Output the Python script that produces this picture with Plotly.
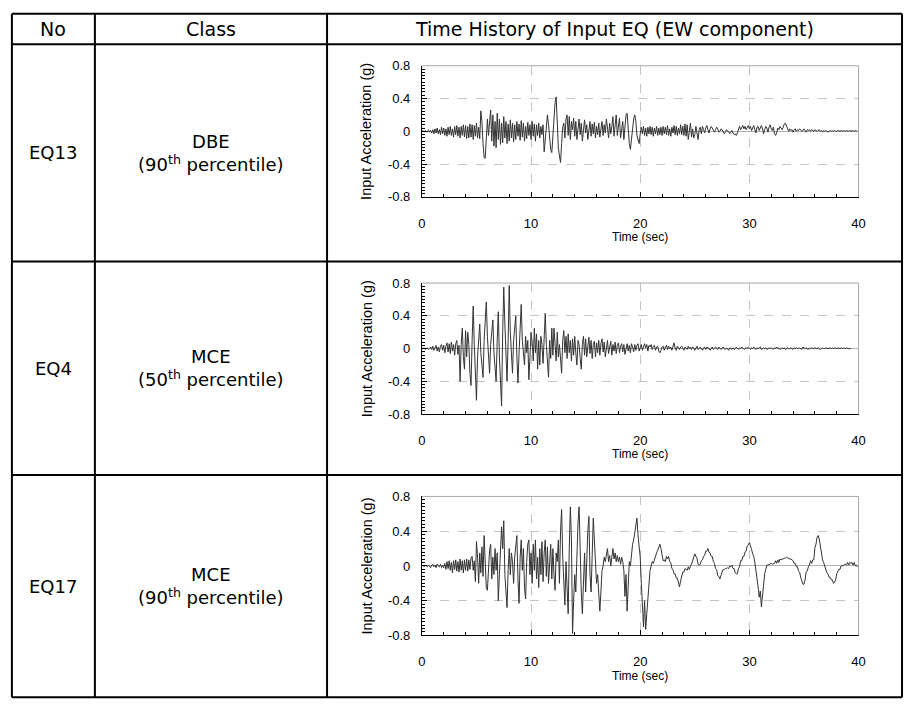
import plotly.graph_objects as go

# ---- figure / table geometry (pixels) ----
W, H = 911, 711
DT = 0.1  # sampling interval of the records (s)

# ---- EW acceleration records (g), sampled every DT seconds ----
eq13_acc = [
    0.00, 0.01, -0.01, 0.01, 0.00, -0.01, 0.02, -0.01, 0.01, -0.02, 0.02, -0.03, 0.03, -0.02, 0.04, -0.03, 0.02, -0.04, 0.05, -0.03,
    0.04, -0.05, 0.03, -0.06, 0.05, -0.04, 0.06, -0.05, 0.03, -0.07, 0.06, -0.04, 0.07, -0.06, 0.05, -0.08, 0.06, -0.05, 0.08, -0.07,
    0.07, -0.09, 0.06, -0.08, 0.09, -0.07, 0.08, -0.10, 0.07, -0.06, 0.10, -0.08, 0.05, -0.09, 0.25, 0.12, -0.15, -0.32, -0.33, -0.10,
    0.15, -0.05, 0.18, 0.26, -0.12, 0.20, -0.18, 0.12, -0.20, 0.22, -0.10, 0.15, -0.16, 0.10, -0.14, 0.18, -0.08, 0.12, -0.15, 0.09,
    -0.12, 0.14, -0.08, 0.10, -0.13, 0.08, -0.10, 0.12, -0.06, 0.09, -0.11, 0.13, -0.07, 0.10, -0.12, 0.06, -0.09, 0.11, -0.05, 0.08,
    -0.10, 0.12, -0.06, 0.09, -0.12, 0.08, -0.05, 0.10, -0.08, 0.06, -0.04, 0.08, -0.25, -0.10, 0.05, 0.20, 0.08, -0.12, -0.22, -0.26,
    -0.05, 0.20, 0.35, 0.42, 0.10, -0.20, -0.30, -0.38, -0.15, 0.05, 0.10, -0.08, 0.15, 0.20, -0.05, 0.18, -0.10, 0.12, 0.02, 0.16,
    -0.06, 0.12, -0.10, 0.08, 0.15, -0.04, 0.10, -0.12, 0.06, 0.14, -0.02, 0.08, -0.10, 0.05, 0.12, -0.06, 0.09, -0.03, 0.11, -0.08,
    0.06, -0.04, 0.10, -0.07, 0.05, 0.12, -0.05, 0.08, -0.02, 0.15, 0.04, -0.08, 0.10, -0.03, 0.06, 0.18, -0.06, 0.12, 0.20, -0.05,
    0.10, 0.16, -0.08, 0.05, 0.12, -0.10, 0.08, 0.20, 0.22, -0.05, -0.15, -0.22, -0.10, 0.08, 0.15, 0.20, 0.12, -0.05, -0.12, -0.15,
    -0.03, 0.05, -0.03, 0.06, -0.05, 0.04, -0.06, 0.05, -0.03, 0.06, -0.04, 0.05, -0.06, 0.04, -0.03, 0.06, -0.05, 0.04, -0.04, 0.05,
    -0.05, 0.06, -0.03, 0.05, -0.04, 0.07, -0.05, 0.03, -0.06, 0.05, -0.02, 0.07, -0.04, 0.06, -0.05, 0.04, -0.03, 0.08, -0.04, 0.06,
    -0.05, 0.09, -0.06, 0.08, -0.10, 0.05, 0.10, -0.07, 0.03, -0.08, -0.04, 0.06, -0.05, -0.10, 0.02, 0.05, -0.03, 0.06, 0.02, -0.02,
    0.04, 0.07, 0.02, -0.02, 0.03, 0.06, 0.04, 0.01, -0.01, 0.02, 0.05, 0.03, -0.01, 0.00, 0.03, 0.02, -0.01, -0.03, -0.01, 0.02,
    0.01, -0.02, -0.03, -0.01, 0.01, -0.02, -0.04, -0.03, -0.05, -0.02, 0.04, 0.06, 0.02, 0.05, 0.07, 0.03, 0.06, 0.02, 0.05, 0.07,
    0.03, 0.06, 0.01, 0.04, 0.07, 0.02, -0.02, 0.05, 0.06, 0.01, 0.04, 0.07, 0.03, -0.03, 0.02, 0.06, 0.04, -0.01, 0.05, 0.08,
    0.03, 0.01, 0.05, -0.03, -0.05, -0.02, 0.04, 0.02, 0.06, 0.03, 0.02, 0.05, 0.09, 0.10, 0.06, 0.02, 0.00, 0.03, 0.01, 0.02,
    -0.01, 0.02, 0.03, 0.00, 0.02, 0.01, 0.03, 0.02, 0.00, 0.01, 0.03, 0.01, -0.01, 0.02, 0.01, 0.02, 0.00, 0.02, 0.01, 0.00,
    0.02, 0.01, 0.00, 0.01, 0.02, 0.00, 0.01, -0.01, 0.01, 0.00, 0.01, 0.00, -0.01, 0.00, 0.01, 0.00, 0.01, 0.00, 0.01, 0.00,
    0.00, 0.01, 0.00, 0.00, 0.01, 0.00, 0.01, 0.00, 0.00, 0.01, 0.00, 0.00, 0.01, 0.00, 0.00, 0.01, 0.00, 0.01, 0.00, 0.01,
]

eq4_acc = [
    0.00, 0.00, 0.01, -0.01, 0.00, 0.01, -0.01, 0.00, 0.02, -0.01, 0.03, -0.02, 0.01, 0.04, -0.03, 0.02, -0.04, 0.03, 0.05, -0.02,
    0.04, -0.05, 0.03, 0.07, -0.04, 0.06, -0.06, 0.08, -0.03, 0.05, -0.08, 0.06, 0.10, -0.07, 0.04, -0.40, 0.05, 0.25, -0.10, -0.25,
    0.22, -0.10, 0.20, 0.05, -0.30, -0.45, 0.10, 0.52, 0.05, -0.30, -0.63, -0.10, 0.15, 0.30, -0.05, -0.20, -0.35, 0.10, 0.40, 0.57,
    0.15, -0.10, -0.30, 0.05, 0.20, 0.35, -0.05, -0.25, -0.40, 0.10, 0.45, -0.10, -0.35, -0.70, 0.20, 0.75, 0.30, -0.15, -0.40, 0.10,
    0.77, 0.20, -0.15, -0.30, 0.10, 0.25, 0.40, -0.10, -0.42, -0.05, 0.30, 0.54, 0.10, -0.10, -0.20, 0.15, -0.05, 0.10, -0.38, -0.10,
    0.20, 0.08, -0.15, 0.25, -0.05, 0.18, -0.25, 0.10, -0.20, 0.15, 0.05, -0.18, 0.10, 0.43, 0.05, -0.20, -0.35, 0.10, -0.12, 0.25,
    -0.08, 0.25, 0.05, -0.15, 0.20, -0.10, 0.05, -0.20, -0.30, 0.10, 0.22, -0.05, 0.15, -0.12, 0.18, -0.05, 0.10, -0.15, 0.12, -0.08,
    0.15, -0.05, -0.20, 0.10, 0.05, -0.12, -0.25, 0.05, 0.15, -0.08, 0.12, -0.10, 0.08, 0.14, -0.06, 0.10, -0.12, 0.05, 0.09, -0.10,
    0.07, -0.05, 0.10, -0.08, 0.06, 0.12, -0.04, 0.08, -0.10, 0.05, 0.10, -0.06, 0.03, 0.09, -0.08, 0.05, -0.03, 0.08, -0.06, 0.04,
    0.07, -0.05, 0.03, 0.06, -0.04, 0.05, -0.07, 0.02, 0.06, -0.03, 0.04, -0.05, 0.06, 0.02, -0.04, 0.05, -0.02, 0.04, 0.06, -0.03,
    0.03, 0.05, -0.02, 0.04, 0.06, 0.01, 0.05, -0.03, 0.04, 0.02, 0.05, -0.01, 0.03, 0.04, -0.02, 0.02, 0.03, -0.03, -0.05, -0.02,
    0.02, 0.03, -0.02, 0.02, 0.04, -0.01, 0.03, 0.00, 0.02, -0.02, 0.03, 0.07, 0.01, -0.02, 0.03, 0.01, -0.01, 0.02, 0.03, 0.00,
    -0.02, 0.02, 0.01, -0.01, 0.03, 0.00, 0.02, -0.01, 0.02, 0.01, -0.02, 0.01, 0.03, -0.01, 0.01, 0.02, 0.00, -0.02, 0.01, 0.02,
    -0.01, 0.02, 0.00, 0.01, -0.02, 0.01, 0.02, -0.01, 0.00, 0.02, 0.01, -0.01, 0.02, 0.00, -0.01, 0.01, 0.02, 0.00, -0.01, 0.01,
    0.00, -0.02, 0.01, 0.00, -0.01, 0.01, -0.01, 0.00, 0.02, 0.00, -0.01, 0.01, 0.00, 0.02, 0.01, -0.01, 0.00, 0.01, 0.00, 0.02,
    0.01, -0.01, 0.01, 0.00, 0.02, 0.00, -0.01, 0.01, 0.00, 0.01, 0.02, -0.01, 0.00, 0.01, 0.00, 0.01, -0.01, 0.00, 0.01, 0.00,
    0.01, 0.00, -0.01, 0.01, 0.00, 0.02, 0.00, 0.01, -0.01, 0.00, 0.01, 0.00, 0.01, -0.01, 0.00, 0.01, 0.00, 0.00, 0.01, 0.00,
    -0.01, 0.01, 0.00, 0.01, 0.00, 0.00, 0.01, 0.00, -0.01, 0.02, 0.01, 0.00, 0.01, 0.00, -0.01, 0.01, 0.00, 0.01, 0.00, 0.00,
    0.01, 0.00, 0.00, 0.01, 0.00, -0.01, 0.00, 0.01, 0.00, 0.00, 0.01, 0.00, 0.00, 0.01, 0.00, 0.00, 0.01, 0.00, 0.01, 0.00,
    0.00, 0.01, 0.00, 0.00, 0.01, 0.00, 0.01, 0.00, 0.00, 0.01, 0.00, 0.00, 0.00, 0.00,
]

eq17_acc = [
    0.00, 0.01, -0.01, 0.01, 0.00, -0.01, 0.01, 0.00, -0.02, 0.01, 0.02, -0.01, 0.01, -0.02, 0.02, 0.00, -0.01, 0.02, -0.02, 0.01,
    -0.02, 0.03, -0.04, 0.05, -0.03, 0.06, -0.05, 0.04, -0.08, 0.06, -0.04, 0.07, -0.06, 0.05, -0.07, 0.08, -0.05, 0.06, -0.08, 0.07,
    -0.05, 0.08, -0.06, 0.07, -0.04, 0.09, 0.11, -0.05, 0.06, -0.18, 0.28, 0.10, -0.20, 0.15, -0.08, 0.22, -0.12, 0.35, 0.10, -0.25,
    -0.28, 0.05, 0.18, 0.25, -0.15, 0.10, -0.10, 0.20, -0.05, 0.15, -0.40, -0.10, 0.30, 0.45, 0.20, 0.52, -0.10, -0.30, -0.48, -0.05,
    0.20, -0.10, 0.15, 0.05, -0.20, 0.10, 0.25, 0.35, -0.15, -0.43, 0.10, 0.30, -0.05, 0.20, -0.25, -0.38, 0.05, 0.25, 0.30, -0.10,
    0.15, -0.20, 0.25, -0.05, 0.30, -0.15, 0.10, -0.25, 0.20, -0.10, 0.28, -0.18, 0.15, 0.30, -0.12, 0.22, -0.20, 0.08, 0.25, -0.15,
    0.20, -0.10, -0.28, 0.15, 0.05, 0.30, -0.20, 0.40, 0.65, 0.10, -0.20, -0.45, 0.05, -0.30, -0.55, 0.20, 0.68, 0.30, -0.78, -0.40,
    -0.10, -0.30, 0.20, 0.50, 0.68, 0.10, -0.30, -0.55, -0.20, 0.15, -0.30, 0.20, 0.40, 0.57, -0.10, -0.30, 0.20, 0.55, 0.30, -0.05,
    -0.20, -0.10, -0.40, -0.52, -0.30, -0.05, 0.00, 0.10, 0.05, 0.15, 0.20, 0.05, 0.12, 0.00, 0.15, 0.20, 0.08, 0.15, 0.05, 0.12,
    0.05, 0.10, 0.02, 0.10, 0.05, -0.05, -0.35, -0.10, -0.52, -0.20, 0.05, 0.00, 0.15, 0.25, 0.30, 0.40, 0.45, 0.55, 0.35, 0.20,
    0.10, -0.20, -0.50, -0.70, -0.40, -0.73, -0.55, -0.35, -0.20, -0.05, 0.00, 0.05, 0.03, 0.08, 0.12, 0.15, 0.18, 0.22, 0.25, 0.20,
    0.12, 0.06, 0.07, 0.05, 0.11, 0.08, 0.11, 0.05, 0.04, -0.03, -0.04, -0.09, -0.09, -0.14, -0.14, -0.21, -0.24, -0.17, -0.13, -0.07,
    -0.07, -0.03, -0.04, -0.05, -0.01, -0.04, 0.00, 0.02, 0.06, 0.09, 0.14, 0.11, 0.09, 0.02, 0.01, 0.02, 0.06, 0.07, 0.11, 0.12,
    0.17, 0.17, 0.20, 0.16, 0.15, 0.11, 0.11, 0.05, 0.03, -0.03, -0.04, -0.11, -0.12, -0.15, -0.09, -0.07, -0.04, -0.04, -0.03, -0.03,
    -0.02, -0.03, 0.00, -0.01, 0.01, -0.03, -0.03, -0.08, -0.09, -0.09, -0.03, -0.01, 0.06, 0.06, 0.11, 0.11, 0.16, 0.17, 0.23, 0.24,
    0.27, 0.21, 0.19, 0.14, 0.11, 0.04, -0.04, -0.16, -0.24, -0.36, -0.29, -0.47, -0.34, -0.21, -0.09, -0.04, 0.01, 0.01, 0.02, 0.02,
    0.03, 0.02, 0.03, 0.03, 0.06, 0.03, 0.07, 0.04, 0.08, 0.07, 0.08, 0.08, 0.09, 0.09, 0.10, 0.09, 0.09, 0.08, 0.08, 0.07,
    0.06, 0.03, 0.03, -0.01, -0.01, -0.06, -0.07, -0.13, -0.17, -0.21, -0.21, -0.16, -0.07, -0.06, -0.01, 0.01, 0.06, 0.03, 0.07, 0.07,
    0.21, 0.25, 0.33, 0.35, 0.31, 0.21, 0.16, 0.07, 0.04, -0.01, -0.04, -0.08, -0.09, -0.13, -0.13, -0.16, -0.16, -0.20, -0.19, -0.16,
    -0.09, -0.07, -0.04, -0.04, 0.00, 0.00, 0.01, 0.01, 0.02, 0.01, 0.04, 0.01, 0.04, 0.03, 0.04, 0.01, 0.04, 0.00, 0.01, -0.01,
]

# ---- table contents ----
record_ids = ["EQ13", "EQ4", "EQ17"]
hazard_levels = ["DBE", "MCE", "MCE"]
percentiles = ["90", "50", "90"]
records = [eq13_acc, eq4_acc, eq17_acc]
header_labels = ["No", "Class", "Time History of Input EQ (EW component)"]
x_ticks = [0, 10, 20, 30, 40]
y_ticks = [-0.8, -0.4, 0, 0.4, 0.8]
y_ticklabels = ["-0.8", "-0.4", "0", "0.4", "0.8"]

# table grid lines (pixels)
col_x = [8, 92, 327, 909]
row_y = [7, 38, 260, 478, 705]
plot_left, plot_right = 423, 865
plot_tops = [60, 282, 500]
plot_heights = [134, 134, 142]


def fx(p):
    return p / W


def fy(p):
    return 1 - p / H


fig = go.Figure()
shapes = []
annotations = []
layout_axes = {}

TABLE_FONT = "DejaVu Sans, Verdana, sans-serif"
CHART_FONT = "Liberation Sans, Arial, sans-serif"

for i, acc in enumerate(records):
    sfx = "" if i == 0 else str(i + 1)
    xs = [k * DT for k in range(len(acc))]
    fig.add_trace(go.Scatter(
        x=xs, y=acc, mode="lines",
        line=dict(color="#333333", width=1),
        xaxis=f"x{sfx}", yaxis=f"y{sfx}", showlegend=False, hoverinfo="skip",
    ))

    top = plot_tops[i]
    bottom = top + plot_heights[i]
    xdom = [fx(plot_left), fx(plot_right)]
    ydom = [fy(bottom), fy(top)]

    layout_axes[f"xaxis{sfx}"] = dict(
        domain=xdom, range=[0, 40], anchor=f"y{sfx}",
        tickmode="array", tickvals=x_ticks,
        ticks="inside", ticklen=5, tickcolor="black", tickwidth=1,
        showline=True, linecolor="black", linewidth=1,
        showgrid=True, gridcolor="#c4c4c4", griddash="dash", gridwidth=1,
        zeroline=False,
        minor=dict(dtick=2, tick0=0, ticks="inside", ticklen=3,
                   tickcolor="black", showgrid=False),
        tickfont=dict(family=CHART_FONT, size=13, color="black"),
        ticklabelstandoff=14,
        fixedrange=True,
    )
    layout_axes[f"yaxis{sfx}"] = dict(
        domain=ydom, range=[-0.8, 0.8], anchor=f"x{sfx}",
        tickmode="array", tickvals=y_ticks, ticktext=y_ticklabels,
        ticks="inside", ticklen=5, tickcolor="black", tickwidth=1,
        showline=True, linecolor="black", linewidth=1,
        showgrid=True, gridcolor="#c4c4c4", griddash="dash", gridwidth=1,
        zeroline=True, zerolinecolor="#b0b0b0", zerolinewidth=1,
        minor=dict(dtick=0.04, tick0=0, ticks="inside", ticklen=3,
                   tickcolor="black", showgrid=False),
        tickfont=dict(family=CHART_FONT, size=13, color="black"),
        ticklabelstandoff=8,
        fixedrange=True,
    )

    # light frame on the top and right of each plot area
    shapes.append(dict(type="line", xref=f"x{sfx} domain", yref=f"y{sfx} domain",
                       x0=0, x1=1, y0=1, y1=1, line=dict(color="#a8a8a8", width=1)))
    shapes.append(dict(type="line", xref=f"x{sfx} domain", yref=f"y{sfx} domain",
                       x0=1, x1=1, y0=0, y1=1, line=dict(color="#a8a8a8", width=1)))

    # axis titles
    annotations.append(dict(
        text="Input Acceleration (g)", xref="paper", yref="paper",
        x=fx(367), y=fy((top + bottom) / 2), textangle=-90,
        showarrow=False, xanchor="center", yanchor="middle",
        font=dict(family=CHART_FONT, size=14.5, color="black"),
    ))
    annotations.append(dict(
        text="Time (sec)", xref="paper", yref="paper",
        x=fx((plot_left + plot_right) / 2), y=fy(bottom + 41),
        showarrow=False, xanchor="center", yanchor="middle",
        font=dict(family=CHART_FONT, size=12, color="black"),
    ))

    # table cells
    row_mid = (row_y[i + 1] + row_y[i + 2]) / 2
    annotations.append(dict(
        text=record_ids[i], xref="paper", yref="paper",
        x=fx((col_x[0] + col_x[1]) / 2), y=fy(row_mid),
        showarrow=False, xanchor="center", yanchor="middle",
        font=dict(family=TABLE_FONT, size=18, color="black"),
    ))
    annotations.append(dict(
        text=f"{hazard_levels[i]}<br>({percentiles[i]}<sup>th</sup> percentile)",
        xref="paper", yref="paper",
        x=fx((col_x[1] + col_x[2]) / 2), y=fy(row_mid),
        showarrow=False, xanchor="center", yanchor="middle", align="center",
        font=dict(family=TABLE_FONT, size=18, color="black"),
    ))

# header row
head_mid = (row_y[0] + row_y[1]) / 2
for j, label in enumerate(header_labels):
    annotations.append(dict(
        text=label, xref="paper", yref="paper",
        x=fx((col_x[j] + col_x[j + 1]) / 2), y=fy(head_mid),
        showarrow=False, xanchor="center", yanchor="middle",
        font=dict(family=TABLE_FONT, size=19, color="black"),
    ))

# table rules
for yy in row_y:
    shapes.append(dict(type="line", xref="paper", yref="paper",
                       x0=fx(col_x[0]), x1=fx(col_x[-1]), y0=fy(yy), y1=fy(yy),
                       line=dict(color="black", width=2)))
for xx in col_x:
    shapes.append(dict(type="line", xref="paper", yref="paper",
                       x0=fx(xx), x1=fx(xx), y0=fy(row_y[0]), y1=fy(row_y[-1]),
                       line=dict(color="black", width=2)))

fig.update_layout(
    width=W, height=H,
    margin=dict(l=0, r=0, t=0, b=0),
    paper_bgcolor="white", plot_bgcolor="white",
    shapes=shapes, annotations=annotations,
    **layout_axes,
)

fig.write_html("out.html", config={"displayModeBar": False})
